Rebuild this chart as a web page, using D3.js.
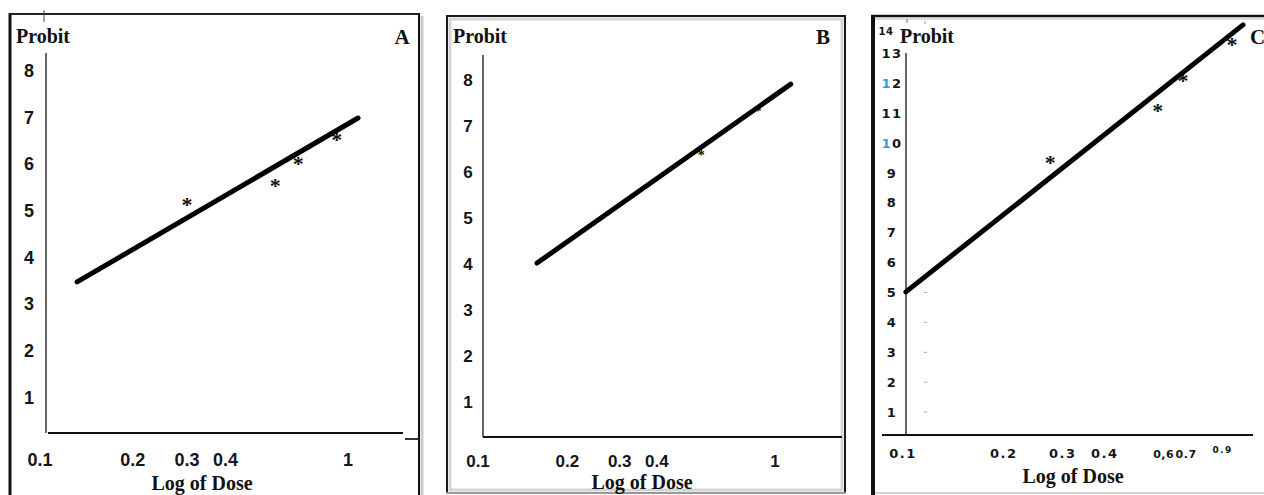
<!DOCTYPE html>
<html>
<head>
<meta charset="utf-8">
<script src="https://cdn.jsdelivr.net/npm/d3@7"></script>
<style>
	body { margin: 0; background: #fff; }
	svg { display: block; }
	.title { font-family: 'Liberation Serif', 'Times New Roman', serif; font-weight: bold; fill: #111; }
	.tick { font-family: 'Liberation Sans', Arial, sans-serif; font-weight: bold; fill: #151520; }
	.tickC { font-family: 'DejaVu Sans', Verdana, sans-serif; font-weight: bold; fill: #151520; letter-spacing: 1.5px; }
</style>
</head>
<body>
<script>

// tick values
var doseTicksA = [0.1, 0.2, 0.3, 0.4, 1];
var doseTicksB = [0.1, 0.2, 0.3, 0.4, 1];
var doseTicksC = [0.1, 0.2, 0.3, 0.4, 0.6, 0.7, 0.9];
var doseLabelsC = ['0.1', '0.2', '0.3', '0.4', '0,6', '0.7', '0.9'];
var probitTicksAB = [1, 2, 3, 4, 5, 6, 7, 8];
var probitTicksC = [1, 2, 3, 4, 5, 6, 7, 8, 9, 10, 11, 12, 13, 14];

// observed points (dose, probit)
var starDoseA = [0.30, 0.58, 0.69, 0.92];
var starProbitA = [5.18, 5.59, 6.06, 6.57];
var starDoseB = [0.564, 0.877];
var starProbitB = [6.41, 7.35];
var starDoseC = [0.275, 0.576, 0.685, 0.96];
var starProbitC = [9.43, 11.17, 12.17, 13.38];

// fitted probit lines (end points)
var fitDoseA = [0.132, 1.078];
var fitProbitA = [3.47, 6.98];
var fitDoseB = [0.158, 1.13];
var fitProbitB = [4.02, 7.91];
var fitDoseC = [0.102, 1.035];
var fitProbitC = [5.02, 13.95];

var width = 1264, height = 495;

var svg = d3.select('body').append('svg')
	.attr('width', width)
	.attr('height', height);

svg.append('rect')
	.attr('width', width)
	.attr('height', height)
	.style('fill', '#fff');

var g = svg.append('g');

// ---------- frames ----------

function drawFrames() {

	// A : open at bottom
	g.append('line') // left
		.attr('x1', 10).attr('y1', 13).attr('x2', 10).attr('y2', height)
		.attr('stroke', '#111').attr('stroke-width', 3);
	g.append('line') // top
		.attr('x1', 9).attr('y1', 14).attr('x2', 420).attr('y2', 14)
		.attr('stroke', '#222').attr('stroke-width', 2);
	g.append('line') // top nick
		.attr('x1', 44).attr('y1', 10).attr('x2', 44).attr('y2', 22)
		.attr('stroke', '#444').attr('stroke-width', 1);
	g.append('line') // right shadow
		.attr('x1', 422).attr('y1', 16).attr('x2', 422).attr('y2', height)
		.attr('stroke', '#ccc').attr('stroke-width', 3);
	g.append('line') // right
		.attr('x1', 419).attr('y1', 13).attr('x2', 419).attr('y2', height)
		.attr('stroke', '#111').attr('stroke-width', 2);

	// B : boxed with soft inner shadow
	g.append('rect')
		.attr('x', 450).attr('y', 19)
		.attr('width', 392).attr('height', 471)
		.style('fill', 'none')
		.attr('stroke', '#d4d4d4').attr('stroke-width', 3);
	g.append('rect')
		.attr('x', 447).attr('y', 16)
		.attr('width', 398).attr('height', 477)
		.style('fill', 'none')
		.attr('stroke', '#1a1a1a').attr('stroke-width', 2);
	g.append('line') // bottom is grey
		.attr('x1', 446).attr('y1', 493).attr('x2', 846).attr('y2', 493)
		.attr('stroke', '#999').attr('stroke-width', 2);

	// C : thick left, open at right
	g.append('line')
		.attr('x1', 873).attr('y1', 15).attr('x2', 873).attr('y2', height)
		.attr('stroke', '#111').attr('stroke-width', 4);
	g.append('line')
		.attr('x1', 871).attr('y1', 16).attr('x2', width).attr('y2', 16)
		.attr('stroke', '#111').attr('stroke-width', 2.5);
	g.append('line')
		.attr('x1', 875).attr('y1', 19).attr('x2', width).attr('y2', 19)
		.attr('stroke', '#ddd').attr('stroke-width', 2);
	g.append('line')
		.attr('x1', 875).attr('y1', 493).attr('x2', width).attr('y2', 493)
		.attr('stroke', '#aaa').attr('stroke-width', 1);
	g.append('line') // small marks near the top
		.attr('x1', 907).attr('y1', 19).attr('x2', 907).attr('y2', 23)
		.attr('stroke', '#777').attr('stroke-width', 1);
	g.append('line')
		.attr('x1', 925).attr('y1', 21).attr('x2', 925).attr('y2', 24)
		.attr('stroke', '#999').attr('stroke-width', 1);
}

// ---------- one panel ----------

function drawPanel(p) {

	var xScale = d3.scaleLog().domain([0.1, 1]).range(p.xRange);
	var yScale = d3.scaleLinear().domain([0, p.yMax]).range(p.yRange);

	// axes
	g.append('line')
		.attr('x1', p.axisX).attr('y1', p.axisTop)
		.attr('x2', p.axisX).attr('y2', p.axisY)
		.attr('stroke', '#333').attr('stroke-width', 1.5);
	g.append('line')
		.attr('x1', p.axisL).attr('y1', p.axisY)
		.attr('x2', p.axisR).attr('y2', p.axisY)
		.attr('stroke', '#111').attr('stroke-width', 2);

	// probit labels
	g.selectAll(null)
		.data(p.yTicks)
		.enter().append('text')
		.attr('class', p.tickClass)
		.attr('x', p.yLabelX)
		.attr('y', function(d) { return yScale(d); })
		.attr('dy', '0.36em')
		.attr('text-anchor', 'middle')
		.style('font-size', p.yFont + 'px')
		.text(function(d) { return d; });

	// dose labels
	g.selectAll(null)
		.data(p.xTicks)
		.enter().append('text')
		.attr('class', p.tickClass)
		.attr('x', function(d) { return xScale(d); })
		.attr('y', p.xLabelY)
		.attr('text-anchor', 'middle')
		.style('font-size', p.xFont + 'px')
		.text(function(d, i) { return p.xLabels ? p.xLabels[i] : d; });

	// observed points (under the fitted line, as in the scan)
	var pts = p.starDose.map(function(d, i) { return [d, p.starProbit[i]]; });
	g.selectAll(null)
		.data(pts)
		.enter().append('text')
		.attr('class', 'title')
		.attr('x', function(d) { return xScale(d[0]); })
		.attr('y', function(d) { return yScale(d[1]); })
		.attr('dy', '0.46em')
		.attr('text-anchor', 'middle')
		.style('font-size', p.starFont + 'px')
		.text('*');

	// fitted line
	var fit = p.fitDose.map(function(d, i) { return [d, p.fitProbit[i]]; });
	g.append('path')
		.datum(fit)
		.attr('d', d3.line()
			.x(function(d) { return xScale(d[0]); })
			.y(function(d) { return yScale(d[1]); }))
		.style('fill', 'none')
		.attr('stroke', '#000')
		.attr('stroke-width', 5)
		.attr('stroke-linecap', 'round');

	// titles
	g.append('text')
		.attr('class', 'title')
		.attr('x', p.probitX).attr('y', 43)
		.attr('text-anchor', 'middle')
		.style('font-size', '20px')
		.text('Probit');

	g.append('text')
		.attr('class', 'title')
		.attr('x', p.doseX).attr('y', p.doseY)
		.attr('text-anchor', 'middle')
		.style('font-size', '20px')
		.text('Log of Dose');

	g.append('text')
		.attr('class', 'title')
		.attr('x', p.letterX).attr('y', 44)
		.attr('text-anchor', p.letterAnchor)
		.style('font-size', '21px')
		.text(p.id);

	return { x: xScale, y: yScale };
}

drawFrames();

var sA = drawPanel({
	id: 'A', xRange: [40, 348], yRange: [444, 444 - 46.7 * 8], yMax: 8,
	axisX: 46, axisTop: 53, axisY: 433, axisL: 48, axisR: 403,
	yTicks: probitTicksAB, xTicks: doseTicksA, tickClass: 'tick',
	yLabelX: 29, xLabelY: 466, yFont: 18, xFont: 18, starFont: 22,
	starDose: starDoseA, starProbit: starProbitA,
	fitDose: fitDoseA, fitProbit: fitProbitA,
	probitX: 43, doseX: 202, doseY: 490, letterX: 402, letterAnchor: 'middle'
});

// A: short stub below the end of the x axis
g.append('line')
	.attr('x1', 405).attr('y1', 439).attr('x2', 418).attr('y2', 439)
	.attr('stroke', '#333').attr('stroke-width', 2);

var sB = drawPanel({
	id: 'B', xRange: [478, 775], yRange: [448, 448 - 46 * 8], yMax: 8,
	axisX: 483, axisTop: 55, axisY: 437, axisL: 483, axisR: 842,
	yTicks: probitTicksAB, xTicks: doseTicksB, tickClass: 'tick',
	yLabelX: 468, xLabelY: 467, yFont: 17, xFont: 17, starFont: 14,
	starDose: starDoseB, starProbit: starProbitB,
	fitDose: fitDoseB, fitProbit: fitProbitB,
	probitX: 480, doseX: 642, doseY: 489, letterX: 823, letterAnchor: 'middle'
});

var sC = drawPanel({
	id: 'C', xRange: [903, 1238], yRange: [442, 442 - 29.9 * 14], yMax: 14,
	axisX: 906, axisTop: 53, axisY: 435, axisL: 882, axisR: 1253,
	yTicks: probitTicksC.filter(function(d) { return d < 14; }), xTicks: doseTicksC, xLabels: doseLabelsC,
	tickClass: 'tickC',
	yLabelX: 892, xLabelY: 458, yFont: 13, xFont: 13, starFont: 22,
	starDose: starDoseC, starProbit: starProbitC,
	fitDose: fitDoseC, fitProbit: fitProbitC,
	probitX: 927, doseX: 1073, doseY: 483, letterX: 1250, letterAnchor: 'start'
});

// C: the top probit tick sits squeezed next to the title
g.append('text')
	.attr('class', 'tickC')
	.attr('x', 886).attr('y', sC.y(14) + 12)
	.attr('text-anchor', 'middle')
	.style('font-size', '10px')
	.style('letter-spacing', '0.5px')
	.text(probitTicksC[probitTicksC.length - 1]);

// C: smaller dose labels on the right
g.selectAll('text.tickC')
	.filter(function() { return this.textContent === '0,6' || this.textContent === '0.7'; })
	.style('font-size', '11px').style('letter-spacing', '0.5px');
g.selectAll('text.tickC')
	.filter(function() { return this.textContent === '0.9'; })
	.style('font-size', '9px').style('letter-spacing', '1.5px').attr('y', 453);

// C: cyan leading "1" on 10 and 12 (scan artefact)
g.selectAll('text.tickC')
	.filter(function() { return this.textContent === '10' || this.textContent === '12'; })
	.each(function() {
		var t = d3.select(this), s = t.text();
		t.text('');
		t.append('tspan').style('fill', '#1ea4d8').text(s[0]);
		t.append('tspan').text(s.slice(1));
	});

// C: faint dashes beside the lower ticks
g.selectAll(null)
	.data(probitTicksC.filter(function(d) { return d <= 5; }))
	.enter().append('line')
	.attr('x1', 924).attr('x2', 927)
	.attr('y1', function(d) { return sC.y(d); })
	.attr('y2', function(d) { return sC.y(d); })
	.attr('stroke', '#aaa').attr('stroke-width', 1);

</script>
</body>
</html>
